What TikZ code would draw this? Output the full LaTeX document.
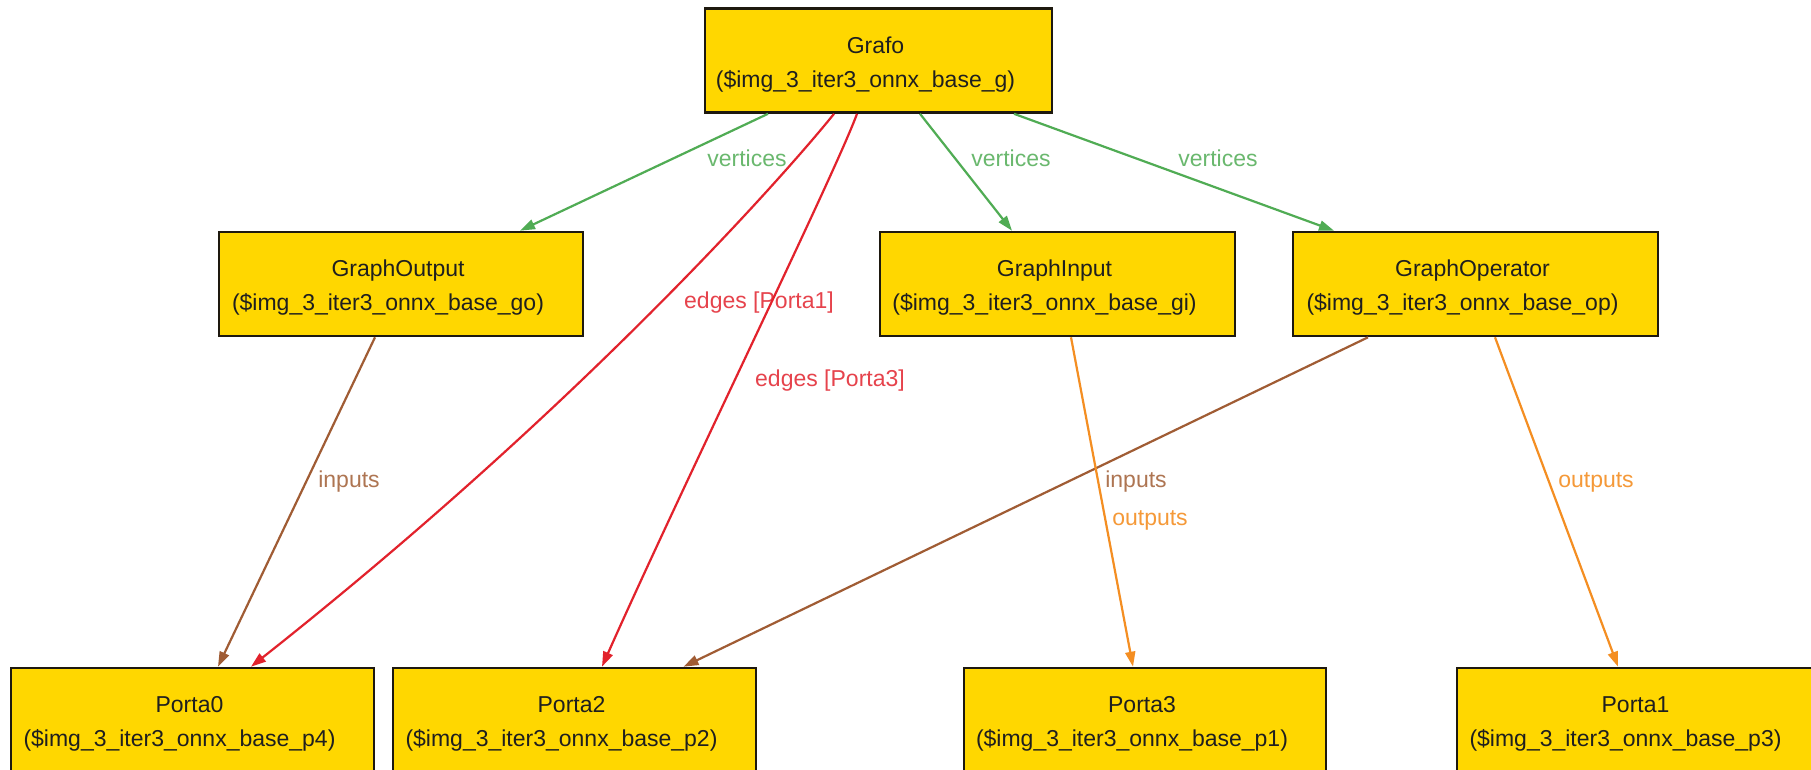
\documentclass[tikz,border=0pt]{standalone}
\usepackage{fontspec}
\setmainfont{Liberation Sans}
\usetikzlibrary{arrows.meta}

\definecolor{boxfill}{RGB}{255,215,0}
\definecolor{boxline}{RGB}{30,25,15}
\definecolor{vgreen}{RGB}{80,172,84}
\definecolor{ered}{RGB}{226,34,44}
\definecolor{ibrown}{RGB}{160,92,52}
\definecolor{oorange}{RGB}{244,142,34}

\tikzset{
  gvbox/.style={draw=boxline, line width=2.6pt, fill=boxfill,
    rectangle, inner sep=0pt, minimum height=104pt},
  gvtext/.style={anchor=base, inner sep=0pt, text=black!88,
    font=\fontsize{23}{28}\selectfont},
  gvlabel/.style={inner sep=0pt, font=\fontsize{23}{28}\selectfont},
  gvedge/.style={line width=2.2pt,
    -{Triangle[length=15pt,width=10pt]}},
  vertexedge/.style={gvedge, draw=vgreen},
  edgeedge/.style={gvedge, draw=ered},
  inputedge/.style={gvedge, draw=ibrown},
  outputedge/.style={gvedge, draw=oorange},
}

% box: name, centre x, centre y, width, title, identifier
\newcommand\gvnode[6]{%
  \node[gvbox, minimum width=#4pt] (#1) at (#2,#3) {};
  \node[gvtext] (#1-t) at ([xshift=-3pt,yshift=-46pt]#1.north) {#5};
  \node[gvtext] (#1-i) at ([xshift=-13pt,yshift=-80pt]#1.north) {#6};
}

\begin{document}
\begin{tikzpicture}[x=1pt,y=-1pt]
\useasboundingbox (0,0) rectangle (1811,770);
\clip (0,0) rectangle (1811,770);
\fill[white] (0,0) rectangle (1811,770);

% nodes
\gvnode{g}{878.5}{60.5}{347}{Grafo}{(\$img\_3\_iter3\_onnx\_base\_g)}
\gvnode{go}{401}{284}{364}{GraphOutput}{(\$img\_3\_iter3\_onnx\_base\_go)}
\gvnode{gi}{1057.5}{284}{355}{GraphInput}{(\$img\_3\_iter3\_onnx\_base\_gi)}
\gvnode{op}{1475.5}{284}{365}{GraphOperator}{(\$img\_3\_iter3\_onnx\_base\_op)}
\gvnode{p0}{192.5}{720}{363}{Porta0}{(\$img\_3\_iter3\_onnx\_base\_p4)}
\gvnode{p2}{574.5}{720}{363}{Porta2}{(\$img\_3\_iter3\_onnx\_base\_p2)}
\gvnode{p3}{1145}{720}{362}{Porta3}{(\$img\_3\_iter3\_onnx\_base\_p1)}
\gvnode{p1}{1638.5}{720}{363}{Porta1}{(\$img\_3\_iter3\_onnx\_base\_p3)}

% edge labels
\node[gvlabel, text=vgreen!85] (lv1) at (747,158) {vertices};
\node[gvlabel, text=vgreen!85] (lv2) at (1011,158) {vertices};
\node[gvlabel, text=vgreen!85] (lv3) at (1218,158) {vertices};
\node[gvlabel, text=ered!85] (le1) at (759,303) {edges [Porta1]};
\node[gvlabel, text=ered!85] (le3) at (830,381) {edges [Porta3]};
\node[gvlabel, text=ibrown!85] (li1) at (349,482) {inputs};
\node[gvlabel, text=ibrown!85] (li2) at (1136,482) {inputs};
\node[gvlabel, text=oorange!90] (lo1) at (1150,520) {outputs};
\node[gvlabel, text=oorange!90] (lo2) at (1596,482) {outputs};

% vertices
\draw[vertexedge] ([xshift=-110.5pt]g.south) -- ([xshift=119pt]go.north);
\draw[vertexedge] ([xshift=41.5pt]g.south) -- ([xshift=-45.5pt]gi.north);
\draw[vertexedge] ([xshift=135.5pt]g.south) -- ([xshift=-141.5pt]op.north);

% edges
\draw[edgeedge] ([xshift=-44.5pt]g.south)
  .. controls +(-40,50) and +(339,-268) .. ([xshift=58.5pt]p0.north);
\draw[edgeedge] ([xshift=-21.5pt]g.south)
  .. controls +(-22,60) and +(80,-180) .. ([xshift=27.5pt]p2.north);

% inputs
\draw[inputedge] ([xshift=-26pt]go.south) -- ([xshift=25.5pt]p0.north);
\draw[inputedge] ([xshift=-107.5pt]op.south) -- ([xshift=109pt]p2.north);

% outputs
\draw[outputedge] ([xshift=13.5pt]gi.south) -- ([xshift=-12pt]p3.north);
\draw[outputedge] ([xshift=19.5pt]op.south) -- ([xshift=-20.5pt]p1.north);
\end{tikzpicture}
\end{document}
